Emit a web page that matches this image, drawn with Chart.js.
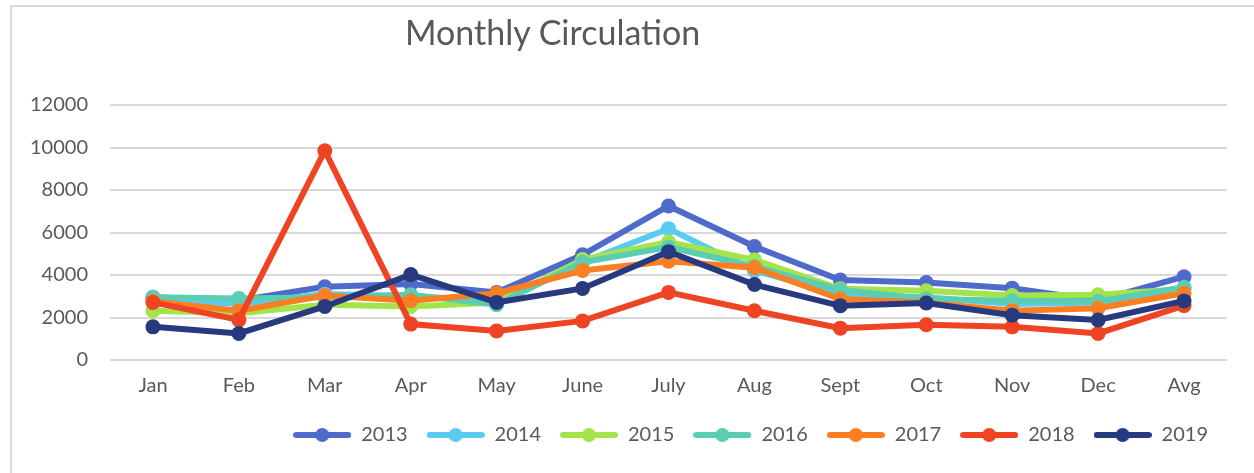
<!DOCTYPE html>
<html lang="en">
<head>
    <meta charset="UTF-8">
    <title>Monthly Circulation</title>
    <script src="https://cdn.jsdelivr.net/npm/chart.js@4.4.0/dist/chart.umd.min.js"></script>
    <style>
        html, body {
            margin: 0;
            padding: 0;
            background: #ffffff;
        }
        .wrap {
            position: relative;
            width: 1254px;
            height: 473px;
            overflow: hidden;
        }
        .frame {
            position: absolute;
            left: 10px;
            top: 5px;
            right: -10px;
            bottom: -10px;
            border-top: 2px solid #dadada;
            border-left: 2px solid #dadada;
            pointer-events: none;
        }
        .title {
            position: absolute;
            left: 405px;
            top: 11px;
            font-family: Lato, sans-serif;
            font-size: 34px;
            color: #595959;
            white-space: nowrap;
        }
        canvas {
            position: absolute;
            left: 0;
            top: 0;
        }
    </style>
</head>
<body>
    <div class="wrap">
        <canvas id="circChart" width="1254" height="473"></canvas>
        <div class="frame"></div>
        <div class="title">Monthly Circulation</div>
    </div>

    <script>
        // categories and values
        const months = ['Jan', 'Feb', 'Mar', 'Apr', 'May', 'June', 'July', 'Aug', 'Sept', 'Oct', 'Nov', 'Dec', 'Avg'];
        const yTicks = [0, 2000, 4000, 6000, 8000, 10000, 12000];

        const years = ['2013', '2014', '2015', '2016', '2017', '2018', '2019'];
        const colors = ['#4E6ACB', '#5BCBF0', '#A3E34B', '#5ACDB2', '#FA7F23', '#EE4423', '#273A80'];

        const v2013 = [2950, 2800, 3450, 3580, 3180, 4950, 7250, 5340, 3760, 3650, 3380, 2800, 3920];
        const v2014 = [2850, 2650, 3100, 3000, 2800, 4600, 6180, 4200, 3100, 2950, 2630, 2700, 3380];
        const v2015 = [2320, 2200, 2600, 2520, 2700, 4730, 5550, 4710, 3350, 3260, 3030, 3070, 3340];
        const v2016 = [2950, 2900, 2950, 3070, 2600, 4600, 5310, 4400, 3290, 2870, 2790, 2760, 3420];
        const v2017 = [2750, 2320, 3030, 2790, 3140, 4210, 4650, 4340, 2870, 2700, 2320, 2440, 3140];
        const v2018 = [2710, 1890, 9850, 1690, 1370, 1840, 3180, 2320, 1500, 1660, 1560, 1250, 2560];
        const v2019 = [1560, 1250, 2520, 4020, 2710, 3370, 5100, 3550, 2550, 2680, 2110, 1880, 2780];

        const series = [v2013, v2014, v2015, v2016, v2017, v2018, v2019];

        const textColor = '#595959';
        const font = { family: 'Lato, sans-serif', size: 20 };

        // legend marker: thick line with a dot in the middle
        function legendIcon(color) {
            const c = document.createElement('canvas');
            c.width = 58;
            c.height = 16;
            const g = c.getContext('2d');
            g.strokeStyle = color;
            g.lineWidth = 6;
            g.lineCap = 'round';
            g.beginPath();
            g.moveTo(3, 8);
            g.lineTo(55, 8);
            g.stroke();
            g.fillStyle = color;
            g.beginPath();
            g.arc(29, 8, 7, 0, Math.PI * 2);
            g.fill();
            return c;
        }
        const icons = colors.map(legendIcon);

        // later years sit on top, like the original
        const datasets = years.map((y, i) => ({
            label: y,
            data: series[i],
            borderColor: colors[i],
            backgroundColor: colors[i],
            borderWidth: 6,
            pointRadius: 7.5,
            pointHoverRadius: 7.5,
            pointBorderWidth: 0,
            tension: 0,
            order: years.length - i
        }));

        new Chart(document.getElementById('circChart'), {
            type: 'line',
            data: { labels: months, datasets: datasets },
            options: {
                responsive: false,
                animation: false,
                layout: {
                    padding: { top: 105, right: 27, bottom: 18, left: 0 }
                },
                scales: {
                    x: {
                        offset: true,
                        grid: { display: false },
                        border: { display: false },
                        ticks: { color: textColor, font: font, padding: 6 },
                        afterFit: s => { s.height = 46; }
                    },
                    y: {
                        min: 0,
                        max: 12000,
                        afterBuildTicks: s => { s.ticks = yTicks.map(v => ({ value: v })); },
                        grid: { color: '#d9d9d9', lineWidth: 2, drawTicks: false },
                        border: { display: false },
                        ticks: {
                            color: textColor,
                            font: font,
                            padding: 22,
                            callback: v => String(v)
                        },
                        afterFit: s => { s.width = 110; }
                    }
                },
                plugins: {
                    title: { display: false },
                    tooltip: { enabled: false },
                    legend: {
                        position: 'bottom',
                        align: 'end',
                        labels: {
                            color: textColor,
                            font: font,
                            usePointStyle: true,
                            pointStyleWidth: 58,
                            padding: 19,
                            sort: (a, b) => a.datasetIndex - b.datasetIndex,
                            generateLabels: chart => {
                                const items = Chart.defaults.plugins.legend.labels.generateLabels(chart);
                                items.forEach(it => { it.pointStyle = icons[it.datasetIndex]; });
                                return items;
                            }
                        }
                    }
                }
            }
        });
    </script>
</body>
</html>
